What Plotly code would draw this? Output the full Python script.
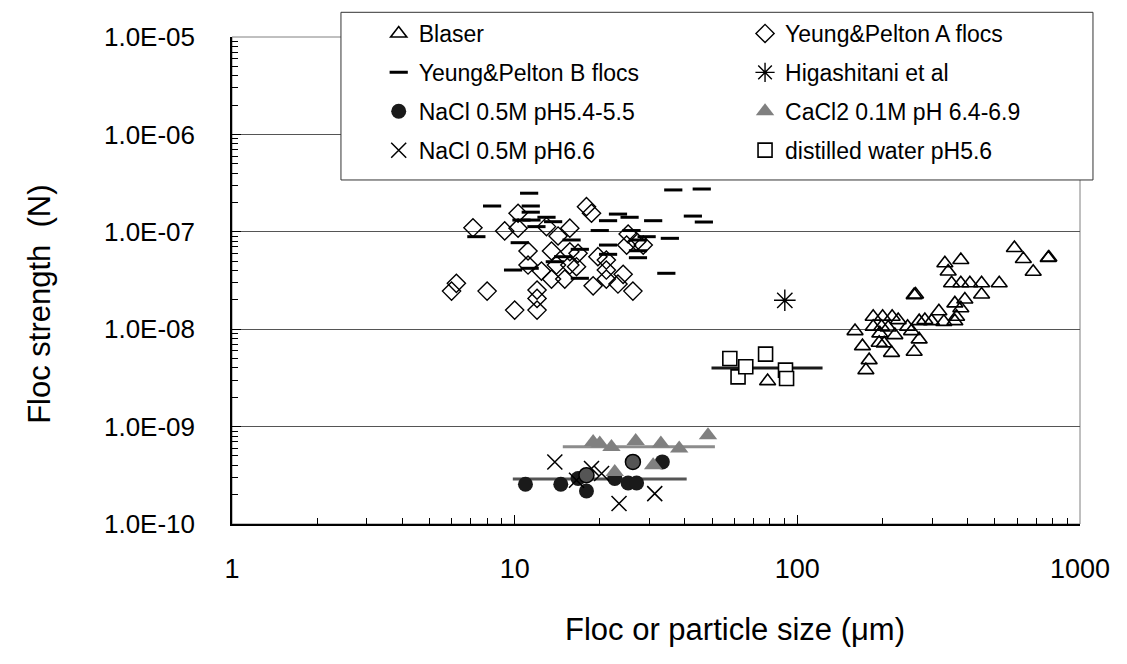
import plotly.graph_objects as go

# ---------------- data ----------------
blaser_x = [78.5, 259, 262, 160, 170, 179.5, 174.8, 185.5, 200.3, 216.5, 227.4, 185.5, 198.6, 209.6,
            195.8, 221.3, 194.8, 202.9, 215.4, 245.5, 253.6, 269.8, 269.8, 259, 282.6, 298.5, 316.8,
            329.9, 360.8, 360.8, 378.8, 391.4, 365.9, 351.3, 378.8, 407.7, 448.6, 448.6, 517.8, 332.6,
            341.7, 378.8, 586, 630.3, 683, 771.8, 776]
blaser_y = [2.93e-9, 2.24e-8, 2.27e-8, 9.56e-9, 6.70e-9, 4.81e-9, 3.80e-9, 1.34e-8, 1.34e-8, 1.34e-8,
            1.24e-8, 1.06e-8, 1.06e-8, 1.04e-8, 9.05e-9, 8.70e-9, 7.25e-9, 7.15e-9, 5.72e-9, 1.06e-8,
            9.56e-9, 1.21e-8, 7.86e-9, 5.86e-9, 1.24e-8, 1.21e-8, 1.53e-8, 1.19e-8, 1.21e-8, 1.84e-8,
            1.64e-8, 2.02e-8, 1.34e-8, 2.96e-8, 2.96e-8, 2.96e-8, 2.96e-8, 2.27e-8, 2.96e-8, 4.75e-8,
            3.91e-8, 5.13e-8, 6.82e-8, 5.25e-8, 3.89e-8, 5.38e-8, 5.45e-8]

ypa_x = [7.12, 9.22, 10.28, 10.28, 12.96, 14.24, 15.67, 17.95, 18.70, 25.2, 24.9, 27.0, 28.5, 11.15,
         13.5, 15.67, 16.76, 19.7, 21.1, 11.15, 12.44, 14.06, 15.67, 16.55, 21.1, 13.5, 15.04, 21.1,
         24.2, 23.2, 18.95, 26.2, 6.22, 5.98, 7.99, 12.0, 12.0, 10.0, 12.0]
ypa_y = [1.10e-7, 1.02e-7, 1.55e-7, 1.09e-7, 1.13e-7, 9.06e-8, 1.09e-7, 1.81e-7, 1.55e-7, 9.49e-8,
         7.31e-8, 7.91e-8, 7.31e-8, 6.35e-8, 6.35e-8, 6.24e-8, 6.01e-8, 5.55e-8, 5.13e-8, 4.56e-8,
         3.95e-8, 4.56e-8, 4.56e-8, 4.38e-8, 4.05e-8, 3.27e-8, 3.27e-8, 3.27e-8, 3.66e-8, 2.91e-8,
         2.79e-8, 2.46e-8, 2.96e-8, 2.46e-8, 2.46e-8, 2.52e-8, 2.07e-8, 1.57e-8, 1.57e-8]

ypb_x = [11.25, 8.32, 11.4, 11.4, 10.57, 11.47, 12.96, 13.68, 11.94, 21.4, 23.2, 25.5, 30.9, 36.4,
         20.0, 25.9, 29.3, 35.4, 7.32, 15.9, 10.42, 21.4, 27.3, 27.3, 17.0, 21.4, 14.84, 13.87, 27.3,
         9.87, 11.3, 17.0, 34.4, 45.9, 42.7, 46.7]
ypb_y = [2.49e-7, 1.84e-7, 1.84e-7, 1.59e-7, 1.32e-7, 1.32e-7, 1.41e-7, 1.27e-7, 1.13e-7, 1.30e-7,
         1.52e-7, 1.41e-7, 1.30e-7, 2.69e-7, 1.03e-7, 1.03e-7, 8.91e-8, 8.57e-8, 8.91e-8, 8.24e-8,
         7.73e-8, 7.31e-8, 8.24e-8, 6.39e-8, 6.61e-8, 5.87e-8, 5.55e-8, 4.93e-8, 5.42e-8, 4.05e-8,
         4.22e-8, 3.33e-8, 3.75e-8, 2.75e-7, 1.45e-7, 1.26e-7]

higa_x = [90.3]
higa_y = [1.98e-8]

nacl55_x = [10.92, 14.56, 16.76, 17.95, 22.6, 25.2, 27.0, 33.3]
nacl55_y = [2.56e-10, 2.56e-10, 2.93e-10, 2.18e-10, 2.93e-10, 2.64e-10, 2.64e-10, 4.34e-10]
nacl55_mid_x = [17.95, 26.2]
nacl55_mid_y = [3.17e-10, 4.34e-10]

cacl_x = [18.95, 20.0, 22.0, 26.8, 32.9, 38.2, 48.3, 30.9, 22.6]
cacl_y = [6.96e-10, 6.71e-10, 6.18e-10, 7.13e-10, 6.71e-10, 5.96e-10, 8.16e-10, 4.01e-10, 3.42e-10]

nacl66_x = [13.87, 16.55, 18.7, 20.3, 23.4, 31.3]
nacl66_y = [4.34e-10, 2.81e-10, 3.71e-10, 3.30e-10, 1.62e-10, 2.05e-10]

dist_x = [57.7, 61.7, 65.7, 77.2, 90.8, 91.6]
dist_y = [5.01e-9, 3.24e-9, 4.11e-9, 5.55e-9, 3.80e-9, 3.12e-9]

# mean lines
dist_mean_x = [49.7, 122.8]
dist_mean_y = [4.0e-9, 4.0e-9]
cacl_mean_x = [14.8, 51.1]
cacl_mean_y = [6.2e-10, 6.2e-10]
nacl_mean_x = [9.85, 40.6]
nacl_mean_y = [2.9e-10, 2.9e-10]

x_ticks = [1, 10, 100, 1000]
x_ticktext = ["1", "10", "100", "1000"]
y_ticks = [1e-10, 1e-9, 1e-8, 1e-7, 1e-6, 1e-5]
y_ticktext = ["1.0E-10", "1.0E-09", "1.0E-08", "1.0E-07", "1.0E-06", "1.0E-05"]
minor_digits = [2, 3, 4, 5, 6, 7, 8, 9]

x_title = "Floc or particle size (μm)"
y_title = "Floc strength&nbsp;&nbsp;(N)"

# ---------------- figure ----------------
FONT = "Liberation Sans, Arial, sans-serif"
fig = go.Figure()

# mean lines (below markers)
for xs, ys, col in [(nacl_mean_x, nacl_mean_y, "#555555"),
                    (cacl_mean_x, cacl_mean_y, "#8c8c8c"),
                    (dist_mean_x, dist_mean_y, "#1a1a1a")]:
    fig.add_trace(go.Scatter(x=xs, y=ys, mode="lines", line=dict(color=col, width=3),
                             showlegend=False, hoverinfo="skip"))

def add(xs, ys, name, marker, legend):
    fig.add_trace(go.Scatter(x=xs, y=ys, mode="markers", name=name, marker=marker,
                             legend=legend, legendgroup=name))

add(blaser_x, blaser_y, "Blaser",
    dict(symbol="triangle-up-open", size=14, color="black", line=dict(width=1.6, color="black")), "legend")
add(ypa_x, ypa_y, "Yeung&Pelton A flocs",
    dict(symbol="diamond-open", size=14, color="black", line=dict(width=1.4, color="black")), "legend2")
add(ypb_x, ypb_y, "Yeung&Pelton B flocs",
    dict(symbol="line-ew", size=13, color="black", line=dict(width=3, color="black")), "legend")
add(higa_x, higa_y, "Higashitani et al",
    dict(symbol="asterisk", size=18, color="black", line=dict(width=1.4, color="black")), "legend2")
add(nacl55_x, nacl55_y, "NaCl 0.5M pH5.4-5.5",
    dict(symbol="circle", size=15, color="#1a1a1a", line=dict(width=0, color="black")), "legend")
add(cacl_x, cacl_y, "CaCl2 0.1M pH 6.4-6.9",
    dict(symbol="triangle-up", size=16, color="#808080", line=dict(width=0, color="#808080")), "legend2")
add(nacl66_x, nacl66_y, "NaCl 0.5M pH6.6",
    dict(symbol="x-thin", size=15, color="black", line=dict(width=1.5, color="black")), "legend")
add(dist_x, dist_y, "distilled water pH5.6",
    dict(symbol="square", size=14, color="white", line=dict(width=1.6, color="black")), "legend2")

fig.add_trace(go.Scatter(x=nacl55_mid_x, y=nacl55_mid_y, mode="markers", showlegend=False,
                         marker=dict(symbol="circle", size=15, color="#555555",
                                     line=dict(width=1.5, color="black"))))

# plot area border (grey)
fig.add_shape(type="rect", xref="paper", yref="paper", x0=0, y0=0, x1=1, y1=1,
              line=dict(color="#808080", width=1), layer="below")
# legend box
fig.add_shape(type="rect", xref="paper", yref="paper", x0=0.1285, y0=0.7064, x1=1.0153, y1=1.0507,
              line=dict(color="#333333", width=1), fillcolor="white", layer="above")

leg_common = dict(orientation="v", yanchor="top", xanchor="left",
                  bgcolor="rgba(0,0,0,0)", borderwidth=0,
                  font=dict(family=FONT, size=23, color="black"),
                  itemsizing="trace", traceorder="grouped", tracegroupgap=6)

x_minor = [d * 10 ** e for e in range(0, 3) for d in minor_digits]
y_minor = [d * 10.0 ** e for e in range(-10, -5) for d in minor_digits]

fig.update_layout(
    width=1119, height=656,
    margin=dict(l=224, r=47, t=29, b=140, autoexpand=False),
    paper_bgcolor="white", plot_bgcolor="white",
    font=dict(family=FONT, color="black", size=26),
    showlegend=True,
    legend=dict(x=0.173, y=1.0513, **leg_common),
    legend2=dict(x=0.605, y=1.0513, **leg_common),
    xaxis=dict(
        type="log", range=[0, 3],
        tickvals=x_ticks, ticktext=x_ticktext,
        ticks="inside", ticklen=9, tickwidth=1, tickcolor="black",
        showline=True, linecolor="black", linewidth=1.5,
        showgrid=False, zeroline=False,
        ticklabelstandoff=20,
        tickfont=dict(size=27),
        minor=dict(ticks="inside", ticklen=6, tickwidth=1, tickcolor="black",
                   showgrid=False, tickvals=x_minor),
    ),
    yaxis=dict(
        type="log", range=[-10, -5],
        tickvals=y_ticks, ticktext=y_ticktext,
        ticks="inside", ticklen=9, tickwidth=1, tickcolor="black",
        showline=True, linecolor="black", linewidth=1.5,
        showgrid=True, gridcolor="#555555", gridwidth=1, zeroline=False,
        ticklabelstandoff=30,
        tickfont=dict(size=26),
        minor=dict(ticks="inside", ticklen=6, tickwidth=1, tickcolor="black",
                   showgrid=False, tickvals=y_minor),
    ),
    annotations=[
        dict(text=x_title, xref="paper", yref="paper", x=0.593, y=-0.216,
             xanchor="center", yanchor="middle", showarrow=False,
             font=dict(family=FONT, size=31, color="black")),
        dict(text=y_title, xref="paper", yref="paper", x=-0.2264, y=0.45,
             xanchor="center", yanchor="middle", showarrow=False, textangle=-90,
             font=dict(family=FONT, size=31, color="black")),
    ],
)

fig.write_html("out.html")
